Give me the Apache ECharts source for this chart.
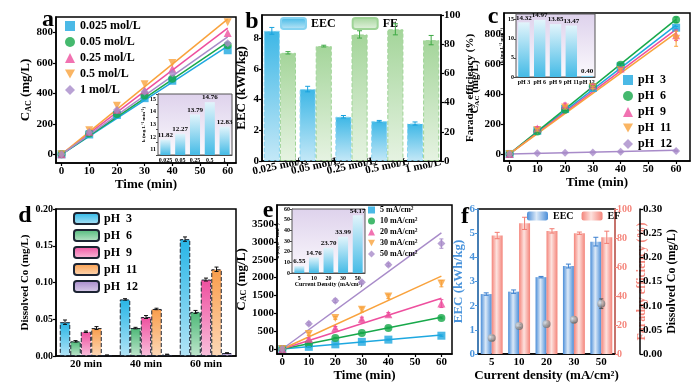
<!DOCTYPE html>
<html>
<head>
<meta charset="utf-8">
<script src="https://cdn.jsdelivr.net/npm/echarts@6/dist/echarts.min.js"></script>
<style>
  html, body { margin: 0; padding: 0; background: #fff; }
  #chart { width: 700px; height: 388px; }
</style>
</head>
<body>
<div id="chart"></div>
<script>
const FONT = 'Liberation Serif';

// ---- panel a: electrolyte concentration ----
const timeA = [0, 10, 20, 30, 40, 60];
const concA = ['0.025 mol/L', '0.05 mol/L', '0.25 mol/L', '0.5 mol/L', '1 mol/L'];
const valA = [
  [0, 130, 258, 368, 482, 682],
  [0, 136, 265, 386, 496, 715],
  [0, 148, 292, 420, 560, 795],
  [0, 158, 318, 460, 598, 866],
  [0, 145, 290, 410, 532, 728]
];
const fitEndA = [709, 736, 827, 886, 770];
const kLabelsA = ['0.025', '0.05', '0.25', '0.5', '1'];
const kA = [11.82, 12.27, 13.79, 14.76, 12.83];

// ---- panel b: EEC / FE vs concentration ----
const catB = ['0.025 mol/L', '0.05 mol/L', '0.25 mol/L', '0.5 mol/L', '1 mol/L'];
const eecB = [8.47, 4.68, 2.88, 2.59, 2.44];
const eecErrB = [0.22, 0.18, 0.08, 0.05, 0.1];
const feB = [74.1, 78.7, 86.7, 90.2, 82.8];
const feErrB = [0.8, 0.6, 2.5, 3.8, 3.2];

// ---- panel c: pH ----
const timeC = [0, 10, 20, 30, 40, 60];
const phC = ['pH  3', 'pH  6', 'pH  9', 'pH  11', 'pH  12'];
const valC = [
  [0, 155, 300, 440, 585, 842],
  [0, 150, 295, 450, 595, 895],
  [0, 170, 325, 455, 570, 792],
  [0, 160, 310, 445, 560, 768],
  [0, 5, 8, 10, 14, 20]
];
const errC = [
  [0, 5, 5, 5, 6, 8],
  [0, 5, 6, 6, 8, 18],
  [0, 12, 14, 10, 8, 35],
  [0, 8, 10, 8, 8, 50],
  [0, 2, 2, 2, 3, 4]
];
const fitEndC = [859, 898, 831, 808, 24];
const kLabelsC = ['pH 3', 'pH 6', 'pH 9', 'pH 11', 'pH 12'];
const kC = [14.32, 14.97, 13.85, 13.47, 0.40];

// ---- panel d: dissolved Co ----
const catD = ['20 min', '40 min', '60 min'];
const phD = ['pH  3', 'pH  6', 'pH  9', 'pH  11', 'pH  12'];
const coD = [
  [0.046, 0.077, 0.159],
  [0.020, 0.038, 0.060],
  [0.033, 0.053, 0.104],
  [0.038, 0.064, 0.118],
  [0.001, 0.002, 0.004]
];
const coErrD = [
  [0.003, 0.001, 0.003],
  [0.001, 0.001, 0.002],
  [0.001, 0.002, 0.002],
  [0.002, 0.001, 0.003],
  [0.0005, 0.0005, 0.0005]
];

// ---- panel e: current density ----
const timeE = [0, 10, 20, 30, 40, 60];
const cdE = ['5 mA/cm²', '10 mA/cm²', '20 mA/cm²', '30 mA/cm²', '50 mA/cm²'];
const valE = [
  [0, 60, 130, 200, 262, 372],
  [0, 150, 310, 450, 590, 870],
  [0, 280, 590, 840, 970, 1270],
  [0, 420, 870, 1100, 1470, 1830],
  [0, 710, 1350, 1865, 2360, 2950]
];
const errE = [
  [0, 10, 10, 15, 15, 20],
  [0, 10, 15, 15, 20, 25],
  [0, 30, 40, 50, 50, 110],
  [0, 40, 40, 70, 60, 90],
  [0, 40, 50, 40, 40, 130]
];
const fitEndE = [393, 886, 1422, 2039, 3250];
const kLabelsE = ['5', '10', '20', '30', '50'];
const kE = [6.55, 14.76, 23.70, 33.99, 54.17];

// ---- panel f: EEC / FE / Co vs current density ----
const catF = ['5', '10', '20', '30', '50'];
const eecF = [2.48, 2.58, 3.18, 3.64, 4.65];
const eecErrF = [0.05, 0.07, 0.03, 0.08, 0.18];
const feF = [81.7, 90.1, 84.9, 83.3, 80.5];
const feErrF = [2.2, 4.2, 1.5, 0.8, 4.2];
const coF = [0.033, 0.058, 0.062, 0.071, 0.104];
const coErrF = [0.005, 0.003, 0.002, 0.006, 0.010];

const lineColors = ['#1ea8e0', '#17a84a', '#ee4f9e', '#f9a23c', '#a88bc9'];
const symbols = ['rect', 'circle', 'triangle', 'path://M0,0L10,0L5,9Z', 'diamond'];

const vgrad = (top, bottom) => new echarts.graphic.LinearGradient(0, 0, 0, 1, [
  { offset: 0, color: top }, { offset: 1, color: bottom }
]);
const hgrad = (edge, mid) => new echarts.graphic.LinearGradient(0, 0, 1, 0, [
  { offset: 0, color: edge }, { offset: 0.45, color: mid }, { offset: 1, color: edge }
]);

const bold = (size, color) => ({ fontFamily: FONT, fontWeight: 'bold', fontSize: size, color: color || '#000' });
const plain = v => String(v);

const cacName = '{n|C}{s|AC}{n| (mg/L)}';
const cacRich = {
  n: bold(13),
  s: Object.assign(bold(8), { verticalAlign: 'bottom', padding: [5, 0, 0, 0] })
};
const cacRichSmall = {
  n: bold(11),
  s: Object.assign(bold(7), { verticalAlign: 'bottom', padding: [4, 0, 0, 0] })
};

function grid(left, top, width, height, extra) {
  return Object.assign({
    left, top, width, height, show: true, borderColor: '#000', borderWidth: 1.5,
    outerBoundsMode: 'none', containLabel: false
  }, extra || {});
}

function axisBase(gridIndex, color) {
  const c = color || '#000';
  return {
    gridIndex,
    axisLine: { show: true, onZero: false, lineStyle: { color: c, width: 1.5 } },
    axisTick: { show: true, length: 3, lineStyle: { color: c, width: 1.2 } },
    axisLabel: Object.assign(bold(11, c), { margin: 3, formatter: plain }),
    splitLine: { show: false },
    nameTextStyle: bold(13, c)
  };
}

function valueAxis(gridIndex, min, max, ticks, extra) {
  const a = axisBase(gridIndex);
  a.type = 'value';
  a.min = min;
  a.max = max;
  a.axisLabel.customValues = ticks;
  a.axisTick.customValues = ticks;
  return Object.assign(a, extra || {});
}

function insetAxis(gridIndex, type, extra) {
  return Object.assign({
    gridIndex, type,
    axisLine: { show: true, onZero: false, lineStyle: { color: '#444', width: 1 } },
    axisTick: { show: true, length: 2, lineStyle: { color: '#444' } },
    axisLabel: Object.assign(bold(6), { margin: 2, interval: 0, formatter: plain }),
    splitLine: { show: false },
    nameTextStyle: bold(5)
  }, extra || {});
}

function errSeries(xi, yi, data, offset, color, cap) {
  return {
    type: 'custom', xAxisIndex: xi, yAxisIndex: yi, z: 10, silent: true,
    data, encode: { x: 0, y: 1 },
    renderItem: (params, api) => {
      const x = api.value(0), y = api.value(1), e = api.value(2);
      const hi = api.coord([x, y + e]);
      const lo = api.coord([x, y - e]);
      const cx = hi[0] + (offset ? api.size([1, 0])[0] * offset : 0);
      const st = { stroke: color, lineWidth: 1 };
      return {
        type: 'group', children: [
          { type: 'line', shape: { x1: cx, y1: hi[1], x2: cx, y2: lo[1] }, style: st },
          { type: 'line', shape: { x1: cx - cap, y1: hi[1], x2: cx + cap, y2: hi[1] }, style: st },
          { type: 'line', shape: { x1: cx - cap, y1: lo[1], x2: cx + cap, y2: lo[1] }, style: st }
        ]
      };
    }
  };
}

const insetBg = vgrad('#ded2ec', '#fbf9fd');
const insetBar = vgrad('#e2f4fb', '#45bbe6');
const insetLabel = Object.assign(bold(7), {
  show: true, position: 'top', distance: 1, formatter: p => p.value.toFixed(2)
});

const series = [];

// panel a
concA.forEach((name, i) => {
  series.push({
    type: 'line', xAxisIndex: 0, yAxisIndex: 0, data: [[0, 0], [60, fitEndA[i]]],
    showSymbol: false, silent: true, lineStyle: { color: lineColors[i], width: 1.5 }, z: 2
  });
});
concA.forEach((name, i) => {
  series.push({
    type: 'scatter', name, xAxisIndex: 0, yAxisIndex: 0, symbol: symbols[i], symbolSize: 8,
    data: timeA.map((t, j) => [t, valA[i][j]]), itemStyle: { color: lineColors[i] }, z: 3
  });
});
series.push({
  type: 'bar', xAxisIndex: 1, yAxisIndex: 1, data: kA, barWidth: '68%', z: 6,
  itemStyle: { color: insetBar }, label: insetLabel
});

// panel b
series.push({
  type: 'bar', name: 'b:EEC', xAxisIndex: 2, yAxisIndex: 2, data: eecB, barWidth: '45%', barGap: '0%',
  itemStyle: { color: vgrad('#3db7e6', '#c4e8f7'), borderColor: '#86d3f1', borderType: 'dashed', borderWidth: 1 }
});
series.push({
  type: 'bar', name: 'b:FE', xAxisIndex: 2, yAxisIndex: 3, data: feB, barWidth: '45%', barGap: '0%',
  itemStyle: { color: vgrad('#a4d59a', '#e6f3e2'), borderColor: '#9fd497', borderType: 'dashed', borderWidth: 1 }
});
series.push(errSeries(2, 2, eecB.map((v, i) => [i, v, eecErrB[i]]), -0.225, '#18a2de', 2.5));
series.push(errSeries(2, 3, feB.map((v, i) => [i, v, feErrB[i]]), 0.225, '#3ea844', 2.5));

// panel c
phC.forEach((name, i) => {
  series.push({
    type: 'line', xAxisIndex: 3, yAxisIndex: 4, data: [[0, 0], [60, fitEndC[i]]],
    showSymbol: false, silent: true, lineStyle: { color: lineColors[i], width: 1.5 }, z: 2
  });
});
phC.forEach((name, i) => {
  series.push({
    type: 'scatter', name, xAxisIndex: 3, yAxisIndex: 4, symbol: symbols[i], symbolSize: 8,
    data: timeC.map((t, j) => [t, valC[i][j]]), itemStyle: { color: lineColors[i] }, z: 3
  });
  series.push(errSeries(3, 4, timeC.map((t, j) => [t, valC[i][j], errC[i][j]]), 0, lineColors[i], 2));
});
series.push({
  type: 'bar', xAxisIndex: 4, yAxisIndex: 5, data: kC, barWidth: '72%', z: 6,
  itemStyle: { color: insetBar }, label: insetLabel
});

// panel d
const dTop = ['#27b5e6', '#4db877', '#ee4f9f', '#f99d4b', '#a386c9'];
const dBot = ['#b2e4f6', '#bfe6cd', '#f9c0dc', '#fdd9b8', '#ddd2ec'];
phD.forEach((name, i) => {
  series.push({
    type: 'bar', name: 'd:' + name, xAxisIndex: 5, yAxisIndex: 6, data: coD[i],
    barWidth: '17.5%', barGap: '0%',
    itemStyle: { color: vgrad(dTop[i], dBot[i]), borderColor: '#1c2433', borderType: 'dashed', borderWidth: 1 }
  });
  series.push(errSeries(5, 6, coD[i].map((v, j) => [j, v, coErrD[i][j]]), (i - 2) * 0.175, '#111', 2));
});

// panel e
cdE.forEach((name, i) => {
  series.push({
    type: 'line', xAxisIndex: 6, yAxisIndex: 7, data: [[0, 0], [60, fitEndE[i]]],
    showSymbol: false, silent: true, lineStyle: { color: lineColors[i], width: 1.5 }, z: 2
  });
});
cdE.forEach((name, i) => {
  series.push({
    type: 'scatter', name, xAxisIndex: 6, yAxisIndex: 7, symbol: symbols[i], symbolSize: 8,
    data: timeE.map((t, j) => [t, valE[i][j]]), itemStyle: { color: lineColors[i] }, z: 3
  });
  series.push(errSeries(6, 7, timeE.map((t, j) => [t, valE[i][j], errE[i][j]]), 0, lineColors[i], 2));
});
series.push({
  type: 'bar', xAxisIndex: 7, yAxisIndex: 8, data: kE, barWidth: '68%', z: 6,
  itemStyle: { color: insetBar }, label: insetLabel
});

// panel f
series.push({
  type: 'bar', name: 'f:EEC', xAxisIndex: 8, yAxisIndex: 9, data: eecF, barWidth: '40%', barGap: '0%',
  itemStyle: { color: hgrad('#4b8ed8', '#dbe9f8') }
});
series.push({
  type: 'bar', name: 'f:EF', xAxisIndex: 8, yAxisIndex: 10, data: feF, barWidth: '40%', barGap: '0%',
  itemStyle: { color: hgrad('#f4847a', '#fde2de') }
});
series.push(errSeries(8, 9, eecF.map((v, i) => [i, v, eecErrF[i]]), -0.2, '#3a7fcf', 2.5));
series.push(errSeries(8, 10, feF.map((v, i) => [i, v, feErrF[i]]), 0.2, '#f27a70', 2.5));
series.push(errSeries(8, 11, coF.map((v, i) => [i, v, coErrF[i]]), 0, '#555', 2));
series.push({
  type: 'scatter', xAxisIndex: 8, yAxisIndex: 11, data: coF, symbolSize: 8, z: 11,
  itemStyle: {
    color: new echarts.graphic.RadialGradient(0.35, 0.35, 0.75, [
      { offset: 0, color: '#f2f2f2' }, { offset: 1, color: '#5a5a5a' }
    ])
  }
});

const legendBase = {
  orient: 'vertical', selectedMode: false, padding: 0,
  formatter: name => name.replace(/^[a-z]:/, '')
};

const blue = '#4a94dc';
const salmon = '#f5867c';

const option = {
  animation: false,
  backgroundColor: '#fff',
  grid: [
    grid(56, 17, 180, 146),
    grid(158, 94, 74, 61, { borderColor: '#555', borderWidth: 1, backgroundColor: insetBg, z: 5 }),
    grid(262, 15, 179, 146),
    grid(504, 13, 186, 148),
    grid(516, 14, 79, 63, { borderColor: '#555', borderWidth: 1, backgroundColor: insetBg, z: 5 }),
    grid(56, 209, 180, 147),
    grid(277, 205, 175, 149),
    grid(292, 209, 73, 64, { borderColor: '#555', borderWidth: 1, backgroundColor: insetBg, z: 5 }),
    grid(478, 209, 137, 145)
  ],
  xAxis: [
    valueAxis(0, -2, 63, [0, 10, 20, 30, 40, 50, 60], { name: 'Time (min)', nameLocation: 'middle', nameGap: 14 }),
    insetAxis(1, 'category', { data: kLabelsA, axisTick: { show: false } }),
    Object.assign(axisBase(2), {
      type: 'category', data: catB, axisTick: { show: false },
      axisLabel: Object.assign(bold(11), { margin: 5, interval: 0, rotate: 12, align: 'center' })
    }),
    valueAxis(3, -2, 65, [0, 10, 20, 30, 40, 50, 60], { name: 'Time (min)', nameLocation: 'middle', nameGap: 14 }),
    insetAxis(4, 'category', { data: kLabelsC, axisTick: { show: false } }),
    Object.assign(axisBase(5), { type: 'category', data: catD, axisTick: { show: false } }),
    valueAxis(6, -2, 64, [0, 10, 20, 30, 40, 50, 60], { name: 'Time (min)', nameLocation: 'middle', nameGap: 14 }),
    insetAxis(7, 'category', {
      data: kLabelsE, axisTick: { show: false },
      name: 'Current Density (mA/cm²)', nameLocation: 'middle', nameGap: 8, nameTextStyle: bold(6)
    }),
    Object.assign(axisBase(8), {
      type: 'category', data: catF, axisTick: { show: false },
      axisLabel: Object.assign(bold(11), { margin: 3, interval: 0 }),
      name: 'Current density (mA/cm²)', nameLocation: 'middle', nameGap: 14
    })
  ],
  yAxis: [
    valueAxis(0, -57, 900, [0, 200, 400, 600, 800], {
      name: cacName, nameLocation: 'middle', nameGap: 22, nameTextStyle: { rich: cacRich }
    }),
    insetAxis(1, 'value', {
      min: 10.6, max: 15.4, interval: 1,
      axisLabel: Object.assign(bold(6), { margin: 2, customValues: [11, 12, 13, 14, 15] }),
      name: 'k (mg L⁻¹ min⁻¹)', nameLocation: 'middle', nameGap: 8
    }),
    valueAxis(2, 0, 9.5, [0, 2, 4, 6, 8], {
      name: 'EEC (kWh/kg)', nameLocation: 'middle', nameGap: 14
    }),
    valueAxis(2, 0, 100, [0, 20, 40, 60, 80, 100], {
      position: 'right', name: 'Faraday efficiency (%)', nameLocation: 'middle', nameGap: 17,
      nameTextStyle: bold(11)
    }),
    valueAxis(3, -47, 940, [0, 200, 400, 600, 800], {
      name: cacName, nameLocation: 'middle', nameGap: 22, nameTextStyle: { rich: cacRichSmall }
    }),
    insetAxis(4, 'value', {
      min: 0, max: 16.5, interval: 5,
      name: 'k (mg L⁻¹ min⁻¹)', nameLocation: 'middle', nameGap: 7
    }),
    valueAxis(5, 0, 0.2, [0, 0.05, 0.1, 0.15, 0.2], {
      name: 'Dissolved Co (mg/L)', nameLocation: 'middle', nameGap: 25, nameTextStyle: bold(11),
      axisLabel: Object.assign(bold(10), { margin: 3, customValues: [0, 0.05, 0.1, 0.15, 0.2], formatter: v => v.toFixed(2) })
    }),
    valueAxis(6, -140, 4030, [0, 500, 1000, 1500, 2000, 2500, 3000, 3500], {
      name: cacName, nameLocation: 'middle', nameGap: 28, nameTextStyle: { rich: cacRich }
    }),
    insetAxis(7, 'value', {
      min: 0, max: 60, interval: 10,
      name: 'k (mg L⁻¹ min⁻¹)', nameLocation: 'middle', nameGap: 8
    }),
    Object.assign(valueAxis(8, 0, 6, [0, 1, 2, 3, 4, 5, 6], {
      name: 'EEC (kWh/kg)', nameLocation: 'middle', nameGap: 9
    }), {
      axisLine: { show: true, onZero: false, lineStyle: { color: blue, width: 1.5 } },
      axisTick: { show: true, length: 3, customValues: [0, 1, 2, 3, 4, 5, 6], lineStyle: { color: blue } },
      axisLabel: Object.assign(bold(11, blue), { margin: 3, customValues: [0, 1, 2, 3, 4, 5, 6] }),
      nameTextStyle: bold(13, blue)
    }),
    Object.assign(valueAxis(8, 0, 100, [0, 20, 40, 60, 80, 100], {
      position: 'right', name: 'Faraday efficiency (%)', nameLocation: 'middle', nameGap: 11
    }), {
      axisLine: { show: true, onZero: false, lineStyle: { color: salmon, width: 1.5 } },
      axisTick: { show: true, length: 3, customValues: [0, 20, 40, 60, 80, 100], lineStyle: { color: salmon } },
      axisLabel: Object.assign(bold(10, salmon), { margin: 2, customValues: [0, 20, 40, 60, 80, 100] }),
      nameTextStyle: bold(12, salmon)
    }),
    valueAxis(8, 0, 0.3, [0, 0.05, 0.1, 0.15, 0.2, 0.25, 0.3], {
      position: 'right', offset: 25, name: 'Dissolved Co (mg/L)', nameLocation: 'middle', nameGap: 25,
      nameTextStyle: bold(12),
      axisLabel: Object.assign(bold(11), { margin: 3, customValues: [0, 0.05, 0.1, 0.15, 0.2, 0.25, 0.3], formatter: v => v.toFixed(2) })
    })
  ],
  legend: [
    Object.assign({}, legendBase, {
      data: concA, left: 65, top: 20, itemWidth: 10, itemHeight: 10, itemGap: 4, textStyle: bold(12)
    }),
    Object.assign({}, legendBase, {
      orient: 'horizontal', data: ['b:EEC', 'b:FE'], left: 280, top: 17, itemWidth: 25, itemHeight: 11,
      itemGap: 16, textStyle: bold(12)
    }),
    Object.assign({}, legendBase, {
      data: phC, left: 623, top: 74, itemWidth: 10, itemHeight: 10, itemGap: 4, textStyle: bold(12)
    }),
    Object.assign({}, legendBase, {
      data: phD.map(n => 'd:' + n), left: 73, top: 212, itemWidth: 25, itemHeight: 11, itemGap: 4, textStyle: bold(12)
    }),
    Object.assign({}, legendBase, {
      data: cdE, left: 368, top: 206, itemWidth: 7, itemHeight: 7, itemGap: 3, textStyle: bold(8)
    }),
    Object.assign({}, legendBase, {
      orient: 'horizontal', data: ['f:EEC', 'f:EF'], left: 527, top: 211, itemWidth: 21, itemHeight: 9,
      itemGap: 8, textStyle: bold(10)
    })
  ],
  graphic: [
    ['a', 48, 20], ['b', 252, 22], ['c', 493, 17], ['d', 25, 216], ['e', 268, 211], ['f', 465, 217]
  ].map(([t, x, y]) => ({
    type: 'text', x, y, z: 100,
    style: { text: t, font: 'bold 24px "' + FONT + '"', fill: '#000', align: 'center', verticalAlign: 'middle' }
  })),
  series
};

const chart = echarts.init(document.getElementById('chart'), null, { renderer: 'canvas' });
chart.setOption(option);
</script>
</body>
</html>
